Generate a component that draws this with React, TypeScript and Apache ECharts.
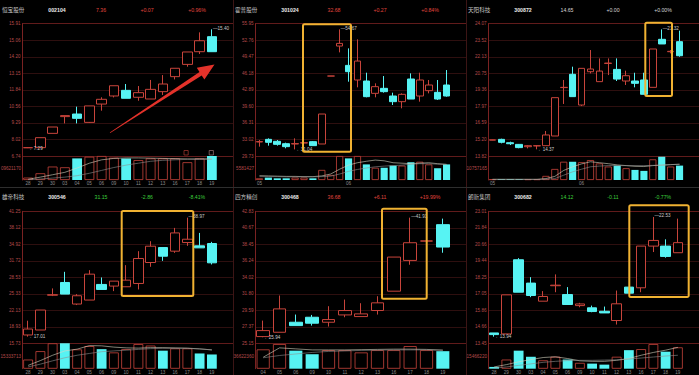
import React, { useEffect, useRef } from 'react';
import * as echarts from 'echarts';

// ---------- header data ----------
const panelNames = ['恒宝股份', '霍普股份', '天阳科技', '雄帝科技', '四方精创', '朗新集团'];
const panelCodes = ['002104', '301024', '300872', '300546', '300468', '300682'];
const panelPrices = ['7.36', '32.68', '14.65', '31.15', '36.68', '14.12'];
const panelChanges = ['+0.07', '+0.27', '+0.00', '-2.86', '+6.11', '-0.11'];
const panelPcts = ['+0.96%', '+0.84%', '+0.00%', '-8.41%', '+19.99%', '-0.77%'];
const volumeLabels = ['09621170', '5581427', '10757165', '15333713', '36622360', '15466220'];
const highIndex = [15, 9, 19, 13, 9, 13];
const highText = ['15.40', '54.67', '23.32', '38.97', '41.91', '22.53'];
const lowIndex = [0, 4, 5, 0, 0, 0];
const lowText = ['7.29', '31.04', '14.37', '17.01', '25.94', '13.94'];

// ---------- y tick labels (bottom -> top) ----------
const yLabels1 = ['6.74', '8.02', '9.29', '10.56', '11.84', '13.15', '14.20', '15.06', '15.91'];
const yLabels2 = ['29.73', '33.02', '36.31', '39.60', '42.89', '46.18', '49.47', '52.76', '55.95'];
const yLabels3 = ['13.82', '15.20', '16.59', '17.97', '19.36', '20.75', '22.13', '23.52', '24.07'];
const yLabels4 = ['15.73', '18.93', '22.13', '25.33', '28.53', '31.72', '34.92', '38.12', '41.25'];
const yLabels5 = ['25.15', '27.37', '29.59', '31.80', '34.02', '36.24', '38.45', '40.67', '42.83'];
const yLabels6 = ['13.45', '14.66', '15.86', '17.05', '18.25', '19.44', '20.66', '21.84', '23.01'];

// ---------- x labels ----------
const xLabels1 = ['28', '29', '30', '03', '04', '05', '06', '09', '10', '11', '12', '13', '16', '17', '18', '19'];
const xLabels2 = ['05', '', '', '', '', '', '', '', '', '', '06', '', '', '', '', '', '', '', '', '', '', ''];
const xLabels3 = ['05', '', '', '', '', '', '', '', '', '', '06', '', '', '', '', '', '', '', '', '', '', ''];
const xLabels4 = ['28', '29', '30', '03', '04', '05', '06', '09', '10', '11', '12', '13', '16', '17', '18', '19'];
const xLabels5 = ['04', '05', '06', '09', '10', '11', '12', '13', '16', '17', '18', '19'];
const xLabels6 = ['28', '29', '30', '03', '04', '05', '06', '09', '10', '11', '12', '13', '16', '17', '18', '19'];

// ---------- candles [open, close, low, high] ----------
const candles1 = [
  [7.31, 7.32, 7.29, 7.33], [7.32, 8.01, 7.32, 8.01], [8.31, 8.75, 8.31, 8.75], [9.47, 9.54, 9.0, 9.54],
  [9.65, 9.35, 9.0, 10.16], [9.07, 10.21, 9.03, 10.21], [10.34, 10.67, 9.88, 10.81], [10.9, 11.61, 10.8, 11.61],
  [11.29, 10.74, 10.74, 11.73], [10.81, 11.13, 10.57, 11.59], [10.69, 11.36, 10.69, 12.01], [11.2, 11.73, 10.97, 12.35],
  [12.24, 12.82, 12.05, 12.82], [13.09, 13.95, 12.93, 13.95], [13.97, 14.73, 13.81, 15.31], [15.01, 13.97, 13.97, 15.52],
];
const candles2 = [
  [32.5, 32.6, 31.58, 32.9], [33.03, 32.44, 31.78, 33.23], [32.64, 32.04, 31.78, 32.9], [32.17, 31.58, 31.25, 32.37],
  [32.1, 32.2, 31.04, 33.23], [32.3, 32.37, 32.3, 32.4], [32.57, 31.78, 31.78, 32.7], [32.11, 38.05, 32.11, 38.05],
  [45.58, 45.58, 45.58, 45.58], [51.52, 52.05, 50.27, 54.83], [47.69, 46.44, 44.46, 51.06], [44.79, 48.55, 43.34, 52.85],
  [44.59, 41.49, 41.36, 46.24], [42.15, 43.47, 41.36, 44.13], [43.14, 42.48, 42.28, 45.58], [41.62, 40.5, 39.84, 42.28],
  [40.5, 41.95, 39.18, 42.15], [44.99, 41.02, 41.02, 46.11], [41.62, 44.79, 40.5, 46.24], [42.68, 43.8, 42.15, 44.79],
  [42.35, 41.02, 40.83, 44.79], [43.8, 41.62, 41.49, 46.77],
];
const candles3 = [
  [15.05, 15.07, 15.04, 15.08], [15.11, 14.88, 14.8, 15.16], [14.85, 14.77, 14.67, 14.93], [14.72, 14.47, 14.42, 14.75],
  [14.54, 14.62, 14.41, 14.67], [14.6, 14.62, 14.34, 14.67], [14.62, 15.45, 14.62, 15.76], [15.37, 18.34, 15.37, 18.34],
  [19.12, 19.14, 17.85, 19.71], [20.15, 18.42, 18.42, 20.74], [17.77, 20.61, 17.69, 20.61], [20.35, 20.56, 20.22, 22.03],
  [19.58, 20.4, 19.58, 21.38], [20.99, 21.02, 20.09, 21.38], [20.53, 19.78, 19.63, 21.38], [19.63, 20.04, 19.32, 20.43],
  [19.63, 19.45, 19.14, 20.27], [19.71, 18.6, 18.6, 20.27], [19.14, 22.11, 19.14, 22.11], [22.86, 22.5, 22.5, 23.63],
  [21.9, 21.93, 21.77, 22.03], [22.68, 21.59, 21.51, 23.53],
];
const candles4 = [
  [17.34, 18.49, 17.02, 20.1], [18.3, 22.16, 18.3, 22.16], [25.02, 25.13, 24.86, 26.34], [27.49, 25.24, 25.24, 29.55],
  [23.32, 24.92, 23.12, 25.24], [24.09, 29.1, 24.09, 29.87], [27.11, 26.14, 26.14, 28.46], [26.79, 27.75, 25.82, 27.75],
  [26.66, 27.94, 26.66, 30.84], [27.3, 32.12, 26.14, 33.54], [31.35, 34.5, 30.52, 35.47], [34.24, 32.57, 31.67, 34.24],
  [33.54, 37.07, 33.21, 38.04], [35.21, 35.85, 34.57, 40.03], [34.57, 34.18, 34.18, 37.07], [35.02, 31.29, 30.97, 35.34],
];
const candles5 = [
  [26.05, 26.85, 25.96, 28.19], [26.63, 29.76, 26.63, 31.55], [27.97, 27.52, 27.52, 29.0], [28.64, 27.84, 27.52, 28.95],
  [27.97, 28.33, 27.39, 30.12], [28.95, 29.54, 28.64, 31.01], [28.73, 29.09, 28.73, 30.52], [29.54, 30.57, 29.0, 31.46],
  [32.13, 36.7, 32.13, 36.7], [36.25, 38.62, 35.67, 41.98], [38.85, 38.85, 38.85, 38.85], [41.04, 38.04, 37.28, 41.85],
];
const candles6 = [
  [14.2, 14.08, 13.93, 14.2], [14.13, 16.96, 14.13, 16.96], [19.5, 17.15, 17.15, 19.62], [17.81, 16.91, 16.79, 18.24],
  [16.5, 16.84, 16.5, 17.23], [17.62, 17.66, 17.15, 18.44], [16.98, 16.26, 16.26, 17.52], [16.18, 16.3, 16.06, 16.38],
  [16.02, 15.75, 15.7, 16.18], [15.77, 15.65, 15.65, 16.11], [15.1, 16.31, 14.81, 17.27], [17.52, 17.08, 17.08, 17.52],
  [17.47, 20.49, 17.15, 20.49], [20.49, 20.9, 20.06, 22.6], [20.49, 19.74, 19.65, 20.98], [20.01, 20.74, 20.01, 22.48],
];

// ---------- volumes (relative units, axis max 100) ----------
const volumes1 = [10, 28, 56, 53, 90, 97, 100, 93, 90, 83, 90, 90, 90, 74, 90, 100];
const volumes2 = [7, 10, 7, 7, 10, 10, 7, 42, 21, 100, 90, 100, 65, 51, 51, 60, 60, 74, 76, 65, 49, 65];
const volumes3 = [3, 3, 3, 3, 3, 3, 17, 46, 76, 76, 74, 83, 69, 56, 60, 49, 42, 38, 86, 97, 56, 60];
const volumes4 = [36, 69, 100, 100, 76, 89, 77, 64, 77, 97, 91, 71, 80, 80, 60, 56];
const volumes5 = [76, 97, 71, 57, 73, 73, 64, 73, 73, 89, 73, 69];
const volumes6 = [7, 36, 71, 47, 33, 47, 36, 23, 20, 16, 47, 73, 77, 97, 67, 84];

// ---------- volume moving-average lines ----------
const maA1 = [3, 12, 22, 32, 50, 70, 84, 90, 92, 92, 91, 90, 89, 88, 88, 88];
const maB1 = [1, 4, 8, 12, 18, 28, 40, 52, 62, 70, 78, 82, 84, 86, 86, 87];
const maA2 = [18, 17, 16, 15, 15, 14, 14, 17, 25, 45, 62, 72, 78, 83, 80, 72, 70, 68, 70, 72, 68, 65];
const maB2 = [14, 14, 14, 13, 13, 13, 13, 14, 16, 25, 36, 44, 50, 55, 58, 60, 62, 66, 68, 68, 66, 65];
const maA3 = [3, 3, 3, 3, 3, 3, 6, 15, 40, 55, 67, 76, 72, 68, 63, 60, 57, 56, 60, 62, 64, 66];
const maB3 = [1, 1, 1, 1, 2, 2, 3, 6, 20, 34, 45, 55, 58, 60, 60, 60, 60, 60, 61, 62, 64, 65];
const maA4 = [13, 32, 53, 70, 77, 91, 90, 85, 82, 81, 83, 83, 82, 81, 78, 74];
const maB4 = [7, 18, 31, 43, 53, 60, 67, 70, 73, 76, 79, 80, 80, 80, 78, 74];
const maA5 = [45, 82, 78, 74, 74, 74, 75, 76, 77, 77, 76, 73];
const maB5 = [43, 52, 58, 64, 68, 70, 72, 73, 74, 74, 74, 73];
const maA6 = [7, 16, 27, 36, 44, 47, 40, 31, 29, 29, 33, 40, 53, 64, 73, 84];
const maB6 = [2, 7, 13, 19, 25, 29, 32, 33, 33, 34, 35, 38, 42, 46, 50, 53];

const panels = [
  { yLabels: yLabels1, xLabels: xLabels1, candles: candles1, volumes: volumes1, maA: maA1, maB: maB1 },
  { yLabels: yLabels2, xLabels: xLabels2, candles: candles2, volumes: volumes2, maA: maA2, maB: maB2 },
  { yLabels: yLabels3, xLabels: xLabels3, candles: candles3, volumes: volumes3, maA: maA3, maB: maB3 },
  { yLabels: yLabels4, xLabels: xLabels4, candles: candles4, volumes: volumes4, maA: maA4, maB: maB4 },
  { yLabels: yLabels5, xLabels: xLabels5, candles: candles5, volumes: volumes5, maA: maA5, maB: maB5 },
  { yLabels: yLabels6, xLabels: xLabels6, candles: candles6, volumes: volumes6, maA: maA6, maB: maB6 },
];

const UP = '#c8443b';
const DOWN = '#57f3f3';
const AXIS_RED = '#7a2222';
const DIM_RED = '#3a1313';
const LABEL_RED = '#b54a4a';
const FONT = "'Liberation Sans', 'Noto Sans CJK SC', sans-serif";
const CJK = "'Noto Sans CJK SC', sans-serif";

function buildOption() {
  const grid: any[] = [];
  const xAxis: any[] = [];
  const yAxis: any[] = [];
  const series: any[] = [];
  const graphic: any[] = [];

  panels.forEach((p, i) => {
    const col = i % 3;
    const row = Math.floor(i / 3);
    const X0 = col * 233;
    const Y0 = row * 187;
    const top = row === 0 ? 23.7 : 211.3;
    const priceH = row === 0 ? 132.3 : 132;
    const volTop = top + priceH;
    const volH = row === 0 ? 24 : 25.4;
    const yMin = parseFloat(p.yLabels[0]);
    const yMax = parseFloat(p.yLabels[p.yLabels.length - 1]);
    const cats = p.xLabels.map((_, k) => String(k));

    // background grid: gridlines + price tick labels
    const gBg = grid.length;
    grid.push({ left: X0 + 22, top, width: 211, height: priceH, containLabel: false, outerBoundsMode: 'none' });
    xAxis.push({ gridIndex: gBg, type: 'value', min: 0, max: 1, show: false });
    const lineColors = p.yLabels.map((_, k) => (k === 0 || k === p.yLabels.length - 1 ? AXIS_RED : DIM_RED));
    yAxis.push({
      gridIndex: gBg, type: 'value', min: 0, max: p.yLabels.length - 1, interval: 1,
      axisLine: { show: true, onZero: false, lineStyle: { color: AXIS_RED, width: 1 } },
      axisTick: { show: false },
      axisLabel: { fontSize: 4.6, color: LABEL_RED, margin: 1.5, fontFamily: FONT, formatter: (v: number) => p.yLabels[Math.round(v)] ?? '' },
      splitLine: { show: true, lineStyle: { color: lineColors, width: 0.8 } },
    });

    // price grid
    const gP = grid.length;
    grid.push({ left: X0 + 22, top, width: 196, height: priceH, containLabel: false, outerBoundsMode: 'none' });
    xAxis.push({ gridIndex: gP, type: 'category', data: cats, show: false, boundaryGap: true });
    yAxis.push({ gridIndex: gP, type: 'value', min: yMin, max: yMax, show: false, splitLine: { show: false } });
    const hi = highIndex[i];
    const lo = lowIndex[i];
    series.push({
      type: 'candlestick', xAxisIndex: gP, yAxisIndex: gP, data: p.candles, barWidth: '80%',
      itemStyle: { color: '#000', color0: DOWN, borderColor: UP, borderColor0: DOWN, borderColorDoji: UP, borderWidth: 1 },
      markPoint: {
        symbol: 'rect', symbolSize: [0.1, 0.1], itemStyle: { color: 'rgba(0,0,0,0)' },
        label: { show: true, position: 'right', distance: 1, fontSize: 4.6, color: '#c9c9c9', fontFamily: FONT },
        data: [
          { coord: [hi, p.candles[hi][3]], label: { formatter: '\u2510' === '' ? '' : '—' + highText[i], offset: [0, -1] } },
          { coord: [lo, p.candles[lo][2]], label: { formatter: '←' + lowText[i], offset: [0, 0] } },
        ],
      },
      z: 3,
    });

    // volume grid
    const gV = grid.length;
    grid.push({ left: X0 + 22, top: volTop, width: 196, height: volH, containLabel: false, outerBoundsMode: 'none' });
    xAxis.push({
      gridIndex: gV, type: 'category', data: cats, boundaryGap: true,
      axisLine: { show: false }, axisTick: { show: false },
      axisLabel: { interval: 0, fontSize: 4.6, color: '#8c8c8c', margin: 1.6, fontFamily: FONT, formatter: (_v: string, idx: number) => p.xLabels[idx] ?? '' },
    });
    yAxis.push({
      gridIndex: gV, type: 'value', min: 0, max: 100, interval: 50,
      axisLine: { show: true, onZero: false, lineStyle: { color: AXIS_RED, width: 1 } },
      axisTick: { show: false }, splitLine: { show: false },
      axisLabel: { fontSize: 4.6, color: LABEL_RED, margin: 1, fontFamily: FONT, formatter: (v: number) => (v === 50 ? volumeLabels[i] : '') },
    });
    series.push({
      type: 'bar', xAxisIndex: gV, yAxisIndex: gV, barWidth: '80%',
      data: p.volumes.map((v, k) => {
        const up = p.candles[k][1] >= p.candles[k][0];
        return { value: v, itemStyle: up ? { color: '#000', borderColor: UP, borderWidth: 0.8 } : { color: DOWN } };
      }),
    });
    series.push({ type: 'line', xAxisIndex: gV, yAxisIndex: gV, data: p.maA, symbol: 'none', lineStyle: { color: '#d9d6c4', width: 0.6 }, z: 4 });
    series.push({ type: 'line', xAxisIndex: gV, yAxisIndex: gV, data: p.maB, symbol: 'none', lineStyle: { color: '#8f8f8f', width: 0.6 }, z: 4 });

    // header
    const hy = Y0 + 10;
    const chg = parseFloat(panelChanges[i]);
    const valColor = chg > 0 ? '#e0463e' : chg < 0 ? '#3ccf3c' : '#d6d6d6';
    graphic.push({ type: 'text', x: X0 + 2, y: hy, silent: true, style: { text: panelNames[i], fill: '#c4c4c4', fontSize: 5.6, fontFamily: CJK, verticalAlign: 'middle', align: 'left' } });
    graphic.push({ type: 'text', x: X0 + 57, y: hy, silent: true, style: { text: panelCodes[i], fill: '#ececec', fontSize: 5.2, fontWeight: 'bold', fontFamily: FONT, verticalAlign: 'middle', align: 'center' } });
    graphic.push({ type: 'text', x: X0 + 101, y: hy, silent: true, style: { text: panelPrices[i], fill: valColor, fontSize: 5.2, fontFamily: FONT, verticalAlign: 'middle', align: 'center' } });
    graphic.push({ type: 'text', x: X0 + 147, y: hy, silent: true, style: { text: panelChanges[i], fill: valColor, fontSize: 5.2, fontFamily: FONT, verticalAlign: 'middle', align: 'center' } });
    graphic.push({ type: 'text', x: X0 + 197, y: hy, silent: true, style: { text: panelPcts[i], fill: valColor, fontSize: 5.2, fontFamily: FONT, verticalAlign: 'middle', align: 'center' } });
  });

  // panel separators
  graphic.push({ type: 'line', silent: true, shape: { x1: 233.5, y1: 0, x2: 233.5, y2: 375 }, style: { stroke: '#3c1515', lineWidth: 1 } });
  graphic.push({ type: 'line', silent: true, shape: { x1: 466.5, y1: 0, x2: 466.5, y2: 375 }, style: { stroke: '#3c1515', lineWidth: 1 } });
  graphic.push({ type: 'line', silent: true, shape: { x1: 0, y1: 187.5, x2: 699, y2: 187.5 }, style: { stroke: '#2e2e2e', lineWidth: 1 } });

  // highlight boxes
  const boxes = [
    [303, 24.3, 48, 127.4],
    [645.3, 22.7, 26.7, 73.3],
    [121.7, 211, 71.6, 85],
    [382, 208.7, 44.7, 90],
    [629.3, 205.3, 59.4, 91.7],
  ];
  boxes.forEach(([x, y, w, h]) => {
    graphic.push({ type: 'rect', silent: true, z: 100, shape: { x, y, width: w, height: h, r: 1.5 }, style: { fill: 'none', stroke: '#f0b232', lineWidth: 2 } });
  });

  // small markers in panel 1 volume area
  graphic.push({ type: 'rect', silent: true, z: 100, shape: { x: 184, y: 150.5, width: 4.2, height: 4.5 }, style: { fill: 'none', stroke: '#c8443b', lineWidth: 0.6 } });
  graphic.push({ type: 'rect', silent: true, z: 100, shape: { x: 209.2, y: 150.5, width: 4.2, height: 4.5 }, style: { fill: 'none', stroke: '#b98a8a', lineWidth: 0.6 } });

  // red arrow in panel 1
  graphic.push({
    type: 'polygon', silent: true, z: 100,
    shape: { points: [[110.2, 133.0], [201.7, 75.4], [204.4, 79.6], [214.5, 64.6], [196.8, 67.85], [199.5, 72.04], [109.8, 132.4]] },
    style: { fill: '#e3322a' },
  });

  return {
    animation: false,
    backgroundColor: '#000',
    textStyle: { fontFamily: FONT },
    grid, xAxis, yAxis, series, graphic,
  };
}

export default function App() {
  const ref = useRef<HTMLDivElement>(null);
  useEffect(() => {
    document.body.style.margin = '0';
    document.body.style.background = '#000';
    if (!ref.current) return;
    const chart = echarts.init(ref.current, undefined, { renderer: 'svg' });
    chart.setOption(buildOption() as any);
    return () => chart.dispose();
  }, []);
  return <div ref={ref} style={{ width: 699, height: 375, background: '#000' }} />;
}
